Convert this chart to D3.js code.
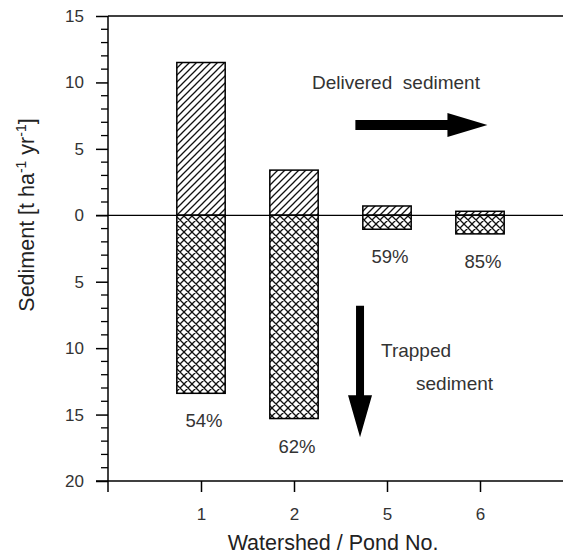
<!DOCTYPE html>
<html><head><meta charset="utf-8">
<script src="https://cdn.jsdelivr.net/npm/d3@7"></script>
<style>
html,body{margin:0;padding:0;background:#fff;}
svg{display:block;font-family:"Liberation Sans",Arial,sans-serif;}
</style></head>
<body>
<script>
// ---- data ----
const categories = ["1", "2", "5", "6"];
const delivered = [11.5, 3.4, 0.7, 0.3];      // t ha-1 yr-1 (upwards)
const trapped = [13.4, 15.3, 1.05, 1.4];       // t ha-1 yr-1 (downwards)
const trapPct = ["54%", "62%", "59%", "85%"];
const yTicks = [-20, -15, -10, -5, 0, 5, 10, 15];

const W = 563, H = 556;
const svg = d3.select("body").append("svg").attr("width", W).attr("height", H);

const x = d3.scaleLinear().domain([0, 5]).range([108, 573]);
const y = d3.scaleLinear().domain([-20, 15]).range([481, 16]);
const barW = (x(1) - x(0)) * 0.52;

// patterns
const defs = svg.append("defs");
const hp = defs.append("pattern").attr("id", "hatch").attr("patternUnits", "userSpaceOnUse")
  .attr("width", 7).attr("height", 7);
hp.append("rect").attr("width", 7).attr("height", 7).attr("fill", "#fff");
hp.append("path").attr("d", "M-1,1 l2,-2 M0,7 l7,-7 M6,8 l2,-2")
  .attr("stroke", "#111").attr("stroke-width", 1.3);
const cp = defs.append("pattern").attr("id", "cross").attr("patternUnits", "userSpaceOnUse")
  .attr("width", 8).attr("height", 8);
cp.append("rect").attr("width", 8).attr("height", 8).attr("fill", "#fff");
cp.append("path").attr("d", "M-1,1 l2,-2 M0,8 l8,-8 M7,9 l2,-2 M-1,7 l2,2 M0,0 l8,8 M7,-1 l2,2")
  .attr("stroke", "#111").attr("stroke-width", 1.3);

const idx = categories.map((c, i) => i + 1);

// bars: delivered (up)
svg.append("g").selectAll("rect").data(idx).join("rect")
  .attr("x", d => x(d) - barW / 2)
  .attr("y", (d, i) => y(delivered[i]))
  .attr("width", barW)
  .attr("height", (d, i) => y(0) - y(delivered[i]))
  .attr("fill", "url(#hatch)").attr("stroke", "#000").attr("stroke-width", 1.5);
// bars: trapped (down)
svg.append("g").selectAll("rect").data(idx).join("rect")
  .attr("x", d => x(d) - barW / 2)
  .attr("y", y(0))
  .attr("width", barW)
  .attr("height", (d, i) => y(-trapped[i]) - y(0))
  .attr("fill", "url(#cross)").attr("stroke", "#000").attr("stroke-width", 1.5);

// percent labels
svg.append("g").selectAll("text").data(idx).join("text")
  .attr("x", d => x(d) + 3)
  .attr("y", (d, i) => y(-trapped[i]) + 34)
  .attr("text-anchor", "middle").attr("font-size", 18.5).attr("fill", "#333")
  .text((d, i) => trapPct[i]);

// zero line
svg.append("line").attr("x1", 96).attr("x2", W).attr("y1", y(0)).attr("y2", y(0))
  .attr("stroke", "#000").attr("stroke-width", 1.3);
// top line
svg.append("line").attr("x1", 108).attr("x2", W).attr("y1", y(15)).attr("y2", y(15))
  .attr("stroke", "#000").attr("stroke-width", 1.5);

// y axis
const yAxis = svg.append("g").attr("transform", `translate(${x(0)},0)`)
  .call(d3.axisLeft(y).tickValues(yTicks).tickSize(12).tickPadding(12)
    .tickFormat(d => Math.abs(d)));
yAxis.select(".domain").remove();
yAxis.selectAll(".tick line").attr("stroke-width", 1.5);
yAxis.selectAll("text").attr("font-size", 17).attr("fill", "#333").attr("font-family", "Liberation Sans, Arial, sans-serif");
const minor = d3.range(-20, 16).filter(v => v % 5 !== 0);
svg.append("g").selectAll("line").data(minor).join("line")
  .attr("x1", x(0) - 7).attr("x2", x(0)).attr("y1", d => y(d)).attr("y2", d => y(d))
  .attr("stroke", "#000").attr("stroke-width", 1.3);
svg.append("line").attr("x1", x(0)).attr("x2", x(0)).attr("y1", y(15)).attr("y2", y(-20) + 11)
  .attr("stroke", "#000").attr("stroke-width", 1.5);

// x axis
const xAxis = svg.append("g").attr("transform", `translate(0,${y(-20)})`)
  .call(d3.axisBottom(x).tickValues(idx).tickSize(11).tickPadding(16)
    .tickFormat((d, i) => categories[i]));
xAxis.select(".domain").remove();
xAxis.selectAll(".tick line").attr("stroke-width", 1.5);
xAxis.selectAll("text").attr("font-size", 17).attr("fill", "#333").attr("font-family", "Liberation Sans, Arial, sans-serif");
svg.append("line").attr("x1", 96).attr("x2", W).attr("y1", y(-20)).attr("y2", y(-20))
  .attr("stroke", "#000").attr("stroke-width", 1.5);

// axis titles
svg.append("text").attr("x", 333).attr("y", 550).attr("text-anchor", "middle")
  .attr("font-size", 21.5).attr("fill", "#222").text("Watershed / Pond No.");
const yl = svg.append("text").attr("transform", `translate(34,215) rotate(-90)`)
  .attr("text-anchor", "middle").attr("font-size", 21.5).attr("fill", "#222");
yl.append("tspan").text("Sediment [t ha");
yl.append("tspan").attr("font-size", 14).attr("dy", -8).text("-1");
yl.append("tspan").attr("dy", 8).text(" yr");
yl.append("tspan").attr("font-size", 14).attr("dy", -8).text("-1");
yl.append("tspan").attr("dy", 8).text("]");

// annotations
svg.append("text").attr("x", 312).attr("y", 89).attr("font-size", 19).attr("fill", "#333")
  .style("white-space", "pre").text("Delivered  sediment");
// horizontal arrow
const ha = { x0: x(2.66), x1: x(4.08), yv: y(6.8) };
svg.append("path")
  .attr("d", `M${ha.x0},${ha.yv - 5} L${ha.x1 - 40},${ha.yv - 5} L${ha.x1 - 40},${ha.yv - 12} L${ha.x1},${ha.yv} L${ha.x1 - 40},${ha.yv + 12} L${ha.x1 - 40},${ha.yv + 5} L${ha.x0},${ha.yv + 5} Z`)
  .attr("fill", "#000");
// vertical arrow
const va = { xv: x(2.71), y0: y(-6.8), y1: y(-16.7) };
svg.append("path")
  .attr("d", `M${va.xv - 4},${va.y0} L${va.xv + 4},${va.y0} L${va.xv + 4},${va.y1 - 42} L${va.xv + 12},${va.y1 - 42} L${va.xv},${va.y1} L${va.xv - 12},${va.y1 - 42} L${va.xv - 4},${va.y1 - 42} Z`)
  .attr("fill", "#000");
svg.append("text").attr("x", 381).attr("y", 357).attr("font-size", 19).attr("fill", "#333").text("Trapped");
svg.append("text").attr("x", 416).attr("y", 390).attr("font-size", 19).attr("fill", "#333").text("sediment");
</script>
</body></html>
